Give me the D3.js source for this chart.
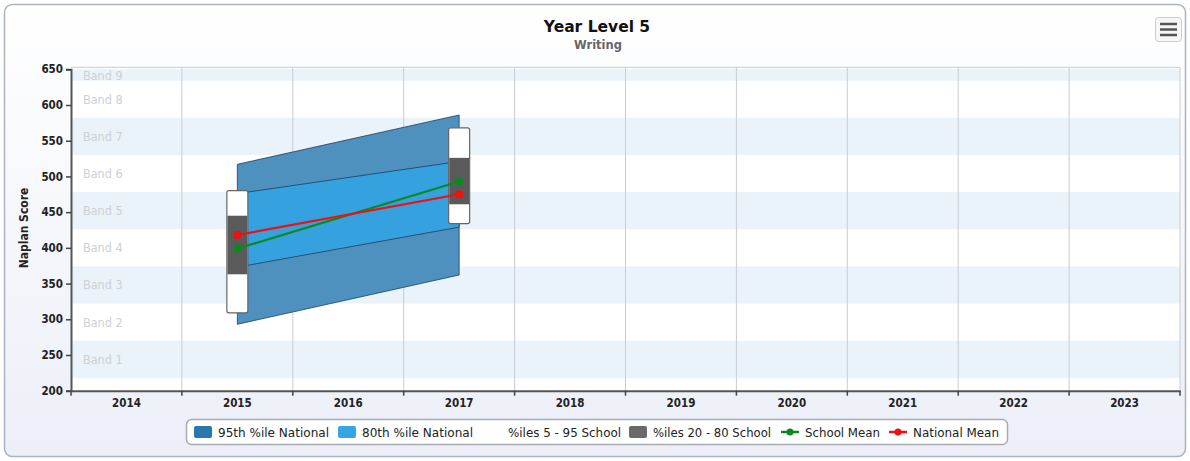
<!DOCTYPE html>
<html><head><meta charset="utf-8">
<script src="https://cdn.jsdelivr.net/npm/d3@7"></script>
<style>
html,body{margin:0;padding:0;background:#fff;}
svg{display:block;font-family:"DejaVu Sans",Verdana,sans-serif;}
</style></head>
<body><svg id="c" width="1190" height="461"></svg>
<script>
// ---- data ----
const years = ["2014","2015","2016","2017","2018","2019","2020","2021","2022","2023"];
const yTicks = [200,250,300,350,400,450,500,550,600,650];
const bandNames = ["Band 1","Band 2","Band 3","Band 4","Band 5","Band 6","Band 7","Band 8","Band 9"];
const bandLow  = [218,270,322,374,426,478,530,582,634];
const bandHigh = [270,322,374,426,478,530,582,634,686];
const dataYears = ["2015","2017"];
const nat95Low  = [293,362];
const nat95High = [517,586];
const nat80Low  = [373,429];
const nat80High = [476,521];
const sch5  = [309,434];
const sch95 = [480,568];
const sch20 = [363,461];
const sch80 = [445,526];
const schoolMean   = [399,493];
const nationalMean = [418,475];
const legendLabels = ["95th %ile National","80th %ile National","%iles 5 - 95 School","%iles 20 - 80 School","School Mean","National Mean"];

// ---- layout ----
const W=1190,H=461;
const L=71,R=1180,T=69.3,B=390.7;
const FONT="DejaVu Sans, sans-serif";
const FONTC="DejaVu Sans Condensed, DejaVu Sans, sans-serif";
const svg=d3.select("#c");
const defs=svg.append("defs");
const g=defs.append("linearGradient").attr("id","bg").attr("x1",0).attr("y1",0).attr("x2",0).attr("y2",1);
g.append("stop").attr("offset","0").attr("stop-color","#ffffff");
g.append("stop").attr("offset","1").attr("stop-color","#eceff8");
svg.append("rect").attr("x",4.5).attr("y",4.5).attr("width",W-9).attr("height",H-9).attr("rx",8)
  .attr("fill","url(#bg)").attr("stroke","#a9b3c4").attr("stroke-width",1.5);

const x=d3.scaleBand().domain(years).range([L,R]);
const y=d3.scaleLinear().domain([200,650]).range([B,T]);
defs.append("clipPath").attr("id","clip").append("rect").attr("x",L).attr("y",T).attr("width",R-L).attr("height",B-T);

// plot background
svg.append("rect").attr("x",L).attr("y",T-2).attr("width",R-L).attr("height",B-T+2).attr("fill","#fff");
const bands=svg.append("g").attr("clip-path","url(#clip)");
bandNames.forEach((n,i)=>{
  if(i%2===0){
    bands.append("rect").attr("x",L).attr("width",R-L)
      .attr("y",y(bandHigh[i])).attr("height",y(bandLow[i])-y(bandHigh[i])).attr("fill","#e9f3f9");
  }
});
bandNames.forEach((n,i)=>{
  const hi=Math.min(bandHigh[i],650), lo=Math.max(bandLow[i],200);
  svg.append("text").attr("x",L+12).attr("y",y((hi+lo)/2)+4.5).attr("fill","#cdd1d5")
    .attr("font-size",12.5).attr("font-family",FONTC).text(n);
});
// vertical grid lines
years.forEach(yr=>{
  svg.append("line").attr("x1",x(yr)+x.bandwidth()).attr("x2",x(yr)+x.bandwidth())
    .attr("y1",T-2).attr("y2",B).attr("stroke","#c8ccd2").attr("stroke-width",1);
});
svg.append("line").attr("x1",L).attr("x2",R).attr("y1",T-2).attr("y2",T-2).attr("stroke","#c8ccd2");

const cx=d=>x(d)+x.bandwidth()/2;
const area=(lo,hi)=>{
  const pts=dataYears.map((d,i)=>[cx(d),y(hi[i])]).concat(dataYears.map((d,i)=>[cx(d),y(lo[i])]).reverse());
  return d3.line()(pts)+"Z";
};
const data=svg.append("g").attr("clip-path","url(#clip)");
data.append("path").attr("d",area(nat95Low,nat95High)).attr("fill","#4e91bf").attr("stroke","#1d3f5a").attr("stroke-width",0.8);
data.append("path").attr("d",area(nat80Low,nat80High)).attr("fill","#35a1df").attr("stroke","#1d3f5a").attr("stroke-width",0.8);

// boxes
const bw=21;
dataYears.forEach((d,i)=>{
  data.append("rect").attr("x",cx(d)-bw/2).attr("width",bw).attr("y",y(sch95[i])).attr("height",y(sch5[i])-y(sch95[i]))
    .attr("rx",2).attr("fill","#fff").attr("stroke","#666").attr("stroke-width",1.2);
  data.append("rect").attr("x",cx(d)-bw/2+0.6).attr("width",bw-1.2).attr("y",y(sch80[i])).attr("height",y(sch20[i])-y(sch80[i]))
    .attr("fill","#5b5a5b");
});
// lines
const ln=d3.line().x((v,i)=>cx(dataYears[i])).y(v=>y(v));
[[schoolMean,"#0a8a1e"],[nationalMean,"#f20f0f"]].forEach(([s,c])=>{
  data.append("path").attr("d",ln(s)).attr("fill","none").attr("stroke",c).attr("stroke-width",2.2);
  s.forEach((v,i)=>data.append("circle").attr("cx",cx(dataYears[i])).attr("cy",y(v)).attr("r",4).attr("fill",c));
});

// axes
const ya=svg.append("g").attr("transform",`translate(${L},0)`)
  .call(d3.axisLeft(y).tickValues(yTicks).tickSize(5).tickPadding(3));
const xa=svg.append("g").attr("transform",`translate(0,${B})`)
  .call(d3.axisBottom(x).tickSize(0).tickPadding(8));
[ya,xa].forEach(a=>{
  a.select(".domain").attr("stroke","#555").attr("stroke-width",2);
  a.selectAll("text").attr("font-size",11.5).attr("font-weight","bold").attr("fill","#222")
   .attr("font-family",FONTC);
  a.selectAll(".tick line").attr("stroke","#444").attr("stroke-width",1.5);
});
// x boundary ticks
years.forEach(yr=>{
  svg.append("line").attr("x1",x(yr)+x.bandwidth()).attr("x2",x(yr)+x.bandwidth())
    .attr("y1",B).attr("y2",B+5).attr("stroke","#444").attr("stroke-width",1.5);
});
svg.append("line").attr("x1",L).attr("x2",L).attr("y1",B).attr("y2",B+5).attr("stroke","#444").attr("stroke-width",1.5);

// titles
svg.append("text").attr("x",597).attr("y",32).attr("text-anchor","middle").attr("font-size",15.5)
  .attr("font-weight","bold").attr("fill","#111").attr("font-family",FONT).text("Year Level 5");
svg.append("text").attr("x",598).attr("y",49).attr("text-anchor","middle").attr("font-size",11.5)
  .attr("font-weight","bold").attr("fill","#666").attr("font-family",FONT).text("Writing");
svg.append("text").attr("transform","translate(28,228) rotate(-90)").attr("text-anchor","middle")
  .attr("font-size",12).attr("font-weight","bold").attr("fill","#222")
  .attr("font-family",FONTC).text("Naplan Score");

// menu button
svg.append("rect").attr("x",1155.5).attr("y",17.5).attr("width",26).attr("height",24).attr("rx",3)
  .attr("fill","#f7f7f7").attr("stroke","#c9ccd2");
[0,1,2].forEach(k=>svg.append("line").attr("x1",1160).attr("x2",1177).attr("y1",24+k*5.5).attr("y2",24+k*5.5)
  .attr("stroke","#555").attr("stroke-width",2.5));

// legend
const lg=svg.append("g");
lg.append("rect").attr("x",186.5).attr("y",419.5).attr("width",821).attr("height",25).attr("rx",5)
  .attr("fill","#fff").attr("stroke","#a7abb2").attr("stroke-width",1.5);
const itemX=[194,338,484,629,781,889];
const itemW=[111,111,113,118,75,86];
const swCol=["#2878ad","#35a5e4","#ffffff","#6a6a6a"];
legendLabels.forEach((lab,i)=>{
  const x0=itemX[i];
  if(i<4){
    lg.append("rect").attr("x",x0).attr("y",426).attr("width",18).attr("height",12).attr("rx",2).attr("fill",swCol[i]);
  } else {
    const c=i===4?"#0a8a1e":"#f20f0f";
    lg.append("line").attr("x1",x0).attr("x2",x0+18).attr("y1",432).attr("y2",432).attr("stroke",c).attr("stroke-width",2.5);
    lg.append("circle").attr("cx",x0+9).attr("cy",432).attr("r",3.5).attr("fill",c);
  }
  lg.append("text").attr("x",x0+24).attr("y",436.5).attr("font-size",12).attr("fill","#222")
    .attr("font-family",FONTC).attr("textLength",itemW[i]).attr("lengthAdjust","spacingAndGlyphs").text(lab);
});
</script></body></html>
